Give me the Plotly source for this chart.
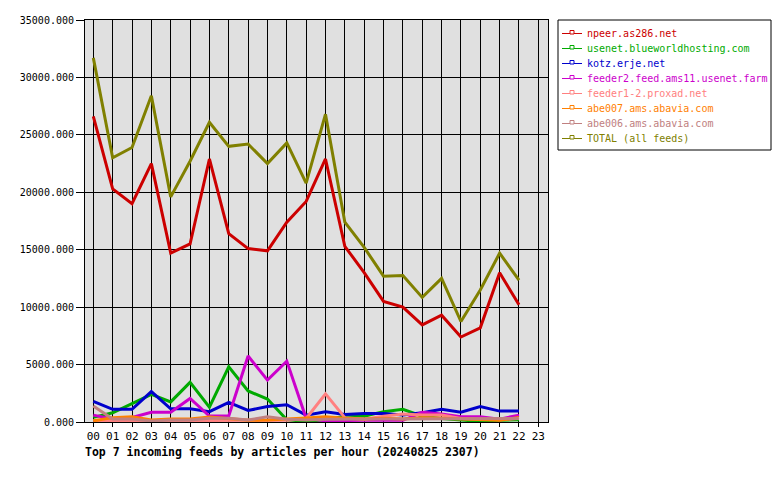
import plotly.graph_objects as go

hours = list(range(23))
tick_labels = [f"{h:02d}" for h in range(24)]

names = ["npeer.as286.net", "usenet.blueworldhosting.com", "kotz.erje.net",
         "feeder2.feed.ams11.usenet.farm", "feeder1-2.proxad.net",
         "abe007.ams.abavia.com", "abe006.ams.abavia.com", "TOTAL (all feeds)"]
colors = ["#cc0000", "#00aa00", "#0000cc", "#cc00cc", "#ff8080",
          "#ff8000", "#c08080", "#808000"]

npeer = [26600, 20300, 19000, 22500, 14700, 15500, 22900, 16400, 15100, 14900, 17400, 19200,
         22900, 15300, 13000, 10500, 10000, 8450, 9300, 7400, 8200, 13000, 10200]
usenet = [400, 800, 1600, 2400, 1750, 3450, 1300, 4800, 2700, 2000, 200, 50,
          200, 500, 500, 900, 1100, 500, 300, 150, 50, 150, 200]
kotz = [1800, 1100, 1100, 2650, 1150, 1150, 900, 1700, 1000, 1350, 1500, 600,
        900, 650, 750, 750, 600, 800, 1100, 850, 1350, 950, 950]
feeder2 = [600, 260, 400, 850, 850, 2050, 520, 520, 5750, 3650, 5300, 320,
           100, 150, 150, 150, 150, 850, 700, 450, 450, 250, 600]
feeder1 = [100, 100, 100, 100, 100, 100, 100, 100, 100, 100, 150, 300,
           2450, 380, 250, 500, 700, 600, 600, 300, 250, 200, 300]
abe007 = [100, 380, 460, 170, 260, 260, 430, 290, 150, 170, 230, 350,
          460, 320, 260, 320, 260, 380, 320, 260, 200, 150, 400]
abe006 = [1400, 260, 260, 90, 170, 170, 320, 320, 170, 460, 230, 170,
          250, 250, 250, 300, 300, 250, 250, 250, 250, 250, 300]
total = [31700, 23000, 23900, 28400, 19600, 22700, 26100, 24000, 24200, 22500, 24300, 20800,
         26800, 17400, 15200, 12700, 12750, 10850, 12500, 8750, 11500, 14700, 12350]

series = [npeer, usenet, kotz, feeder2, feeder1, abe007, abe006, total]
title_text = "Top 7 incoming feeds by articles per hour (20240825 2307)"

W, H = 780, 480
L, R, T, B = 85, 548, 20, 422
FONT = "DejaVu Sans Mono"

def px(x):
    return (x - L) / (R - L)

def py(y):
    return (B - y) / (B - T)

fig = go.Figure()
for name, vals, col in zip(names, series, colors):
    fig.add_trace(go.Scatter(x=hours, y=vals, mode="lines", name=name,
                             line=dict(color=col, width=3), showlegend=False))

shapes = []
annotations = []
# manual legend box
shapes.append(dict(type="rect", xref="paper", yref="paper",
                   x0=px(558), x1=px(771), y0=py(150), y1=py(20),
                   line=dict(color="black", width=1), fillcolor="white", layer="below"))
for i, (name, col) in enumerate(zip(names, colors)):
    yc = 33.5 + 15 * i
    shapes.append(dict(type="line", xref="paper", yref="paper",
                       x0=px(562), x1=px(582), y0=py(yc), y1=py(yc),
                       line=dict(color=col, width=1)))
    shapes.append(dict(type="rect", xref="paper", yref="paper",
                       x0=px(570), x1=px(574), y0=py(yc + 0.5), y1=py(yc - 3),
                       line=dict(color=col, width=1), fillcolor="white"))
    annotations.append(dict(text=name, xref="paper", yref="paper",
                            x=px(585), y=py(yc), xanchor="left", yanchor="middle",
                            showarrow=False, font=dict(family=FONT, size=10, color=col)))

annotations.append(dict(text="<b>" + title_text + "</b>", xref="paper", yref="paper",
                        x=px(83), y=py(452), xanchor="left", yanchor="middle",
                        showarrow=False, font=dict(family=FONT, size=11.5, color="black")))

fig.update_layout(
    width=W, height=H,
    margin=dict(l=L, r=W - R, t=T, b=H - B, pad=0),
    paper_bgcolor="white", plot_bgcolor="#e0e0e0",
    font=dict(family=FONT, size=10, color="black"),
    shapes=shapes, annotations=annotations,
    showlegend=False,
)
fig.update_xaxes(range=[-0.43, 23.5], tickmode="array", tickvals=list(range(24)),
                 ticktext=tick_labels, showgrid=True, gridcolor="black", gridwidth=1,
                 zeroline=False, showline=True, linecolor="black", linewidth=1, mirror=True,
                 ticks="outside", ticklen=4, tickcolor="black", tickfont=dict(size=11))
fig.update_yaxes(range=[0, 35000], tickmode="array", tickvals=list(range(0, 35001, 5000)),
                 tickformat=".3f", showgrid=True, gridcolor="black", gridwidth=1,
                 zeroline=False, showline=True, linecolor="black", linewidth=1, mirror=True,
                 ticks="outside", ticklen=8, tickcolor="black", tickfont=dict(size=10))

fig.write_html("out.html")
